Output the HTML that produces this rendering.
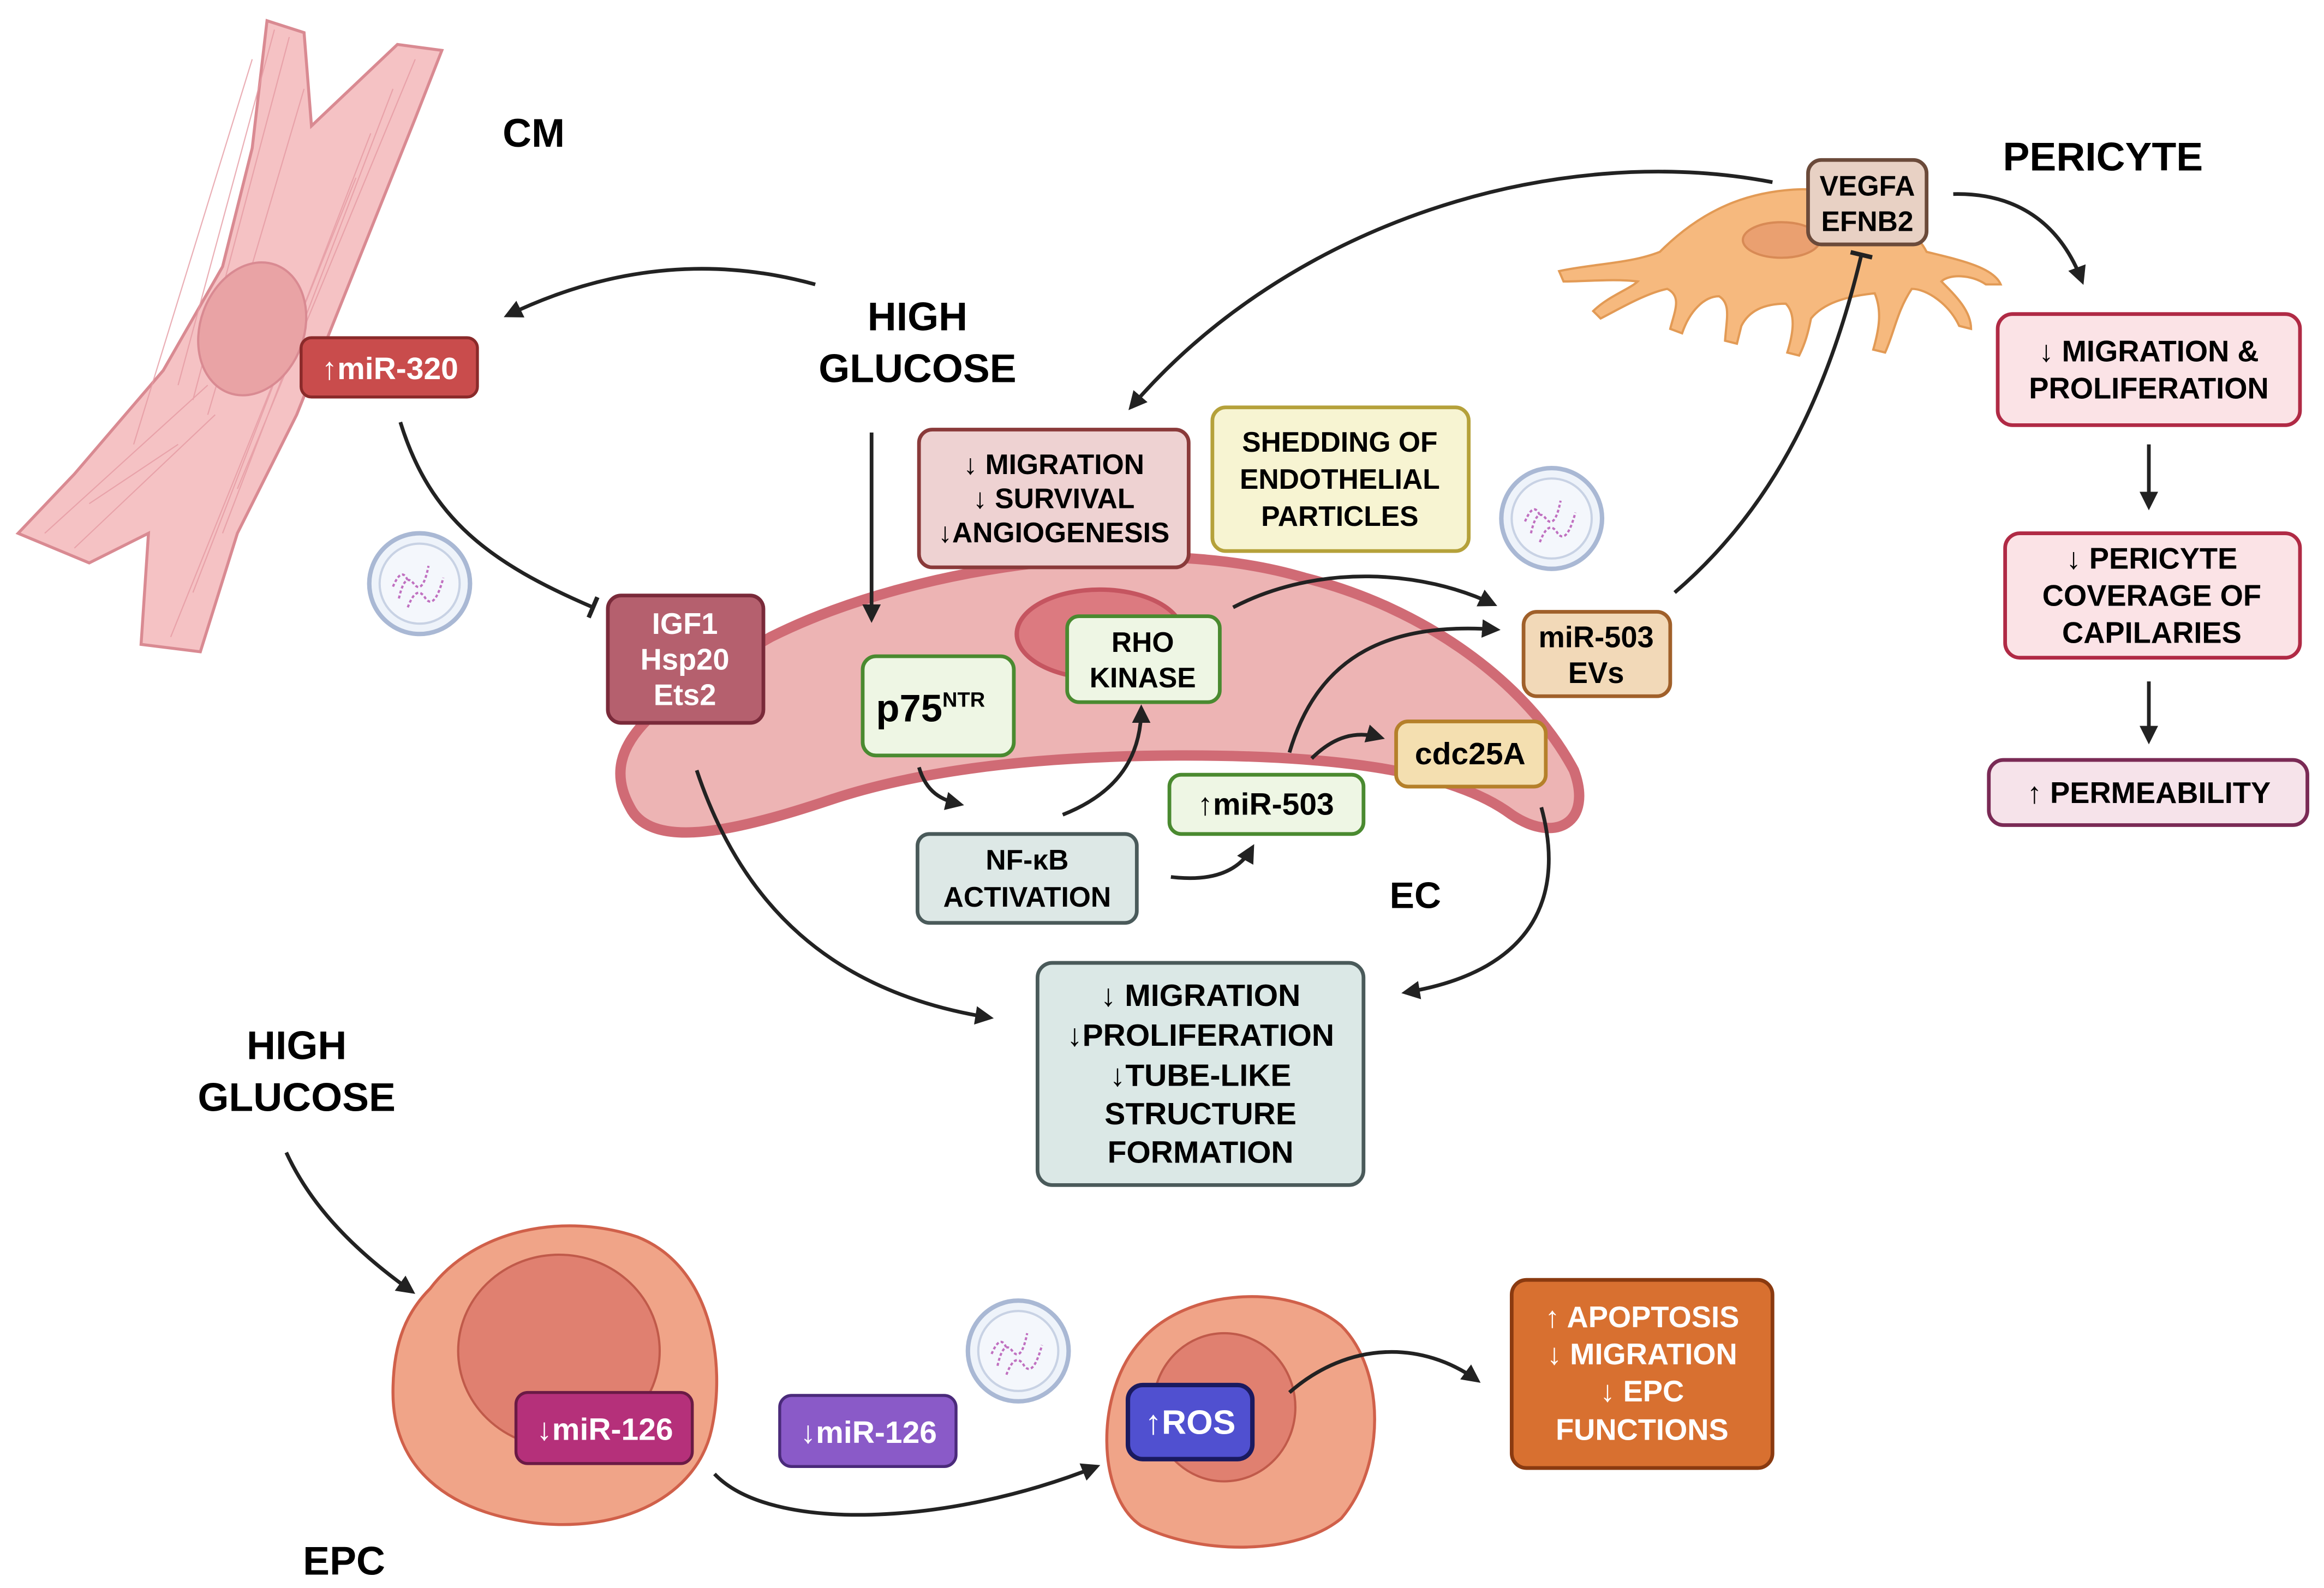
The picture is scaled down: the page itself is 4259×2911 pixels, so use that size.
<!DOCTYPE html>
<html><head><meta charset="utf-8"><style>
html,body{margin:0;padding:0;background:#fff}
svg{display:block}
text{font-family:"Liberation Sans",sans-serif;font-weight:bold}
</style></head><body>
<svg width="4259" height="2911" viewBox="0 0 1568 1072" xmlns="http://www.w3.org/2000/svg">
<defs>
<marker id="ar" viewBox="0 0 10 10" refX="8" refY="5" markerWidth="5" markerHeight="5" orient="auto-start-reverse"><path d="M0,0 L10,5 L0,10 z" fill="#222"/></marker>
<marker id="tb" viewBox="0 0 10 10" refX="5" refY="5" markerWidth="6" markerHeight="6" orient="auto"><path d="M5,0 L5,10" stroke="#222" stroke-width="2"/></marker>
<g id="ves"><circle r="34" fill="#eef3fa" stroke="#a9b8d4" stroke-width="3"/><circle r="27" fill="#f4f7fc" stroke="#c8d2e4" stroke-width="1.5"/><path d="M-14,10 q4,-18 10,-10 q6,8 10,-12 M-8,16 q6,-16 12,-6 q6,8 12,-14 M-18,2 q6,-14 10,-4" stroke="#c070c0" stroke-width="1.5" fill="none" stroke-dasharray="2,1.5"/></g>
</defs>
<rect width="1568" height="1072" fill="#fff"/>

<!-- CM cell -->
<path d="M180,14 L205,22 L210,85 L268,30 L298,34 L280,80 L240,180 L200,280 L160,360 L135,440 L95,435 L100,360 L60,380 L12,360 L50,320 L110,250 L150,180 L170,100 Z" fill="#f5c2c4" stroke="#d98a92" stroke-width="2"/>
<g stroke="#e59aa3" stroke-width="0.8" fill="none" opacity="0.8">
<path d="M185,20 L120,260 M195,25 L130,270 M170,40 L90,300 M205,60 L140,280 M280,40 L160,330 M265,60 L150,360 M250,90 L130,400 M240,120 L115,430 M140,260 L30,360 M145,280 L50,370 M120,300 L60,340"/>
</g>
<ellipse cx="170" cy="222" rx="35" ry="46" transform="rotate(20 170 222)" fill="#e9a3a5" stroke="#d98a92" stroke-width="1.5"/>
<text x="360" y="99" font-size="27" text-anchor="middle">CM</text>

<text x="619" y="223" font-size="27" text-anchor="middle">HIGH</text>
<text x="619" y="258" font-size="27" text-anchor="middle">GLUCOSE</text>

<rect x="203" y="228" width="119" height="40" rx="7" fill="#c94c4c" stroke="#8a2a2a" stroke-width="2"/>
<text x="263" y="256" font-size="21" fill="#fff" text-anchor="middle">↑miR-320</text>

<path d="M550,192 C470,170 400,185 342,213" stroke="#222" stroke-width="2.5" fill="none" marker-end="url(#ar)"/>
<path d="M270,285 C290,350 330,380 400,410" stroke="#222" stroke-width="2.5" fill="none" marker-end="url(#tb)"/>
<use href="#ves" x="283" y="394"/>
<use href="#ves" x="1047" y="350"/>
<use href="#ves" x="687" y="912"/>

<!-- EC cell -->
<path d="M425,545 C400,500 450,470 520,430 C620,380 780,360 880,390 C960,410 1030,460 1062,520 C1075,555 1050,570 1020,550 C980,520 900,510 800,510 C700,510 620,520 560,540 C500,560 440,575 425,545 Z" fill="#edb4b4" stroke="#d06b75" stroke-width="7"/>
<ellipse cx="742" cy="428" rx="56" ry="30" fill="#dc7a80" stroke="#c55560" stroke-width="3"/>

<rect x="410" y="402" width="105" height="86" rx="9" fill="#b5606e" stroke="#7a2a3a" stroke-width="2.5"/>
<text x="462" y="428" font-size="20" fill="#fff" text-anchor="middle">IGF1</text>
<text x="462" y="452" font-size="20" fill="#fff" text-anchor="middle">Hsp20</text>
<text x="462" y="476" font-size="20" fill="#fff" text-anchor="middle">Ets2</text>

<rect x="620" y="290" width="182" height="93" rx="9" fill="#eed2d2" stroke="#8a3a3a" stroke-width="2.5"/>
<text x="711" y="320" font-size="19" text-anchor="middle">↓ MIGRATION</text>
<text x="711" y="343" font-size="19" text-anchor="middle">↓ SURVIVAL</text>
<text x="711" y="366" font-size="19" text-anchor="middle">↓ANGIOGENESIS</text>

<rect x="818" y="275" width="173" height="97" rx="9" fill="#f7f4d2" stroke="#b5a13a" stroke-width="2.5"/>
<text x="904" y="305" font-size="19" text-anchor="middle">SHEDDING OF</text>
<text x="904" y="330" font-size="19" text-anchor="middle">ENDOTHELIAL</text>
<text x="904" y="355" font-size="19" text-anchor="middle">PARTICLES</text>

<path d="M588,292 L588,418" stroke="#222" stroke-width="2.5" fill="none" marker-end="url(#ar)"/>
<rect x="582" y="443" width="102" height="67" rx="9" fill="#eef6e4" stroke="#4a8a30" stroke-width="2.5"/>
<text x="591" y="487" font-size="26">p75<tspan font-size="14" dy="-10">NTR</tspan></text>

<rect x="720" y="416" width="103" height="58" rx="8" fill="#eef6e4" stroke="#4a8a30" stroke-width="2.5"/>
<text x="771" y="440" font-size="19" text-anchor="middle">RHO</text>
<text x="771" y="464" font-size="19" text-anchor="middle">KINASE</text>

<path d="M620,518 C625,535 635,540 648,543" stroke="#222" stroke-width="2.5" fill="none" marker-end="url(#ar)"/>
<rect x="619" y="563" width="148" height="60" rx="8" fill="#dde8e6" stroke="#4a5a5a" stroke-width="2.5"/>
<text x="693" y="587" font-size="19" text-anchor="middle">NF-κB</text>
<text x="693" y="612" font-size="19" text-anchor="middle">ACTIVATION</text>
<path d="M717,550 C755,535 770,510 770,478" stroke="#222" stroke-width="2.5" fill="none" marker-end="url(#ar)"/>
<path d="M790,592 C815,595 835,590 845,572" stroke="#222" stroke-width="2.5" fill="none" marker-end="url(#ar)"/>

<rect x="789" y="523" width="131" height="40" rx="8" fill="#eef6e4" stroke="#4a8a30" stroke-width="2.5"/>
<text x="854" y="550" font-size="21" text-anchor="middle">↑miR-503</text>

<rect x="942" y="487" width="101" height="44" rx="8" fill="#f4dfb0" stroke="#b5802a" stroke-width="2.5"/>
<text x="992" y="516" font-size="21" text-anchor="middle">cdc25A</text>
<path d="M885,512 C900,497 915,493 932,498" stroke="#222" stroke-width="2.5" fill="none" marker-end="url(#ar)"/>
<path d="M870,508 C890,440 940,420 1010,425" stroke="#222" stroke-width="2.5" fill="none" marker-end="url(#ar)"/>
<path d="M832,410 C890,380 960,385 1008,408" stroke="#222" stroke-width="2.5" fill="none" marker-end="url(#ar)"/>

<rect x="1028" y="413" width="99" height="57" rx="9" fill="#f2d9b8" stroke="#a0602a" stroke-width="2.5"/>
<text x="1077" y="437" font-size="20" text-anchor="middle">miR-503</text>
<text x="1077" y="461" font-size="20" text-anchor="middle">EVs</text>

<text x="955" y="613" font-size="25" text-anchor="middle">EC</text>

<path d="M1040,545 C1055,600 1040,655 948,670" stroke="#222" stroke-width="2.5" fill="none" marker-end="url(#ar)"/>
<path d="M470,520 C500,610 560,670 668,687" stroke="#222" stroke-width="2.5" fill="none" marker-end="url(#ar)"/>

<rect x="700" y="650" width="220" height="150" rx="10" fill="#dbe8e6" stroke="#4a5a5a" stroke-width="2.5"/>
<text x="810" y="679" font-size="21" text-anchor="middle">↓ MIGRATION</text>
<text x="810" y="706" font-size="21" text-anchor="middle">↓PROLIFERATION</text>
<text x="810" y="733" font-size="21" text-anchor="middle">↓TUBE-LIKE</text>
<text x="810" y="759" font-size="21" text-anchor="middle">STRUCTURE</text>
<text x="810" y="785" font-size="21" text-anchor="middle">FORMATION</text>

<!-- Pericyte -->
<path d="M1196,123 C1050,95 870,150 763,275" stroke="#222" stroke-width="2.5" fill="none" marker-end="url(#ar)"/>
<path d="M1120,170 C1150,140 1180,130 1210,128 C1250,125 1290,150 1300,170 C1320,175 1345,180 1350,192 L1340,192 C1330,185 1315,185 1310,190 C1320,200 1330,210 1330,222 L1322,220 C1315,205 1300,195 1290,195 C1280,210 1278,225 1272,238 L1264,236 C1268,222 1270,210 1265,198 C1245,200 1230,205 1222,215 C1220,225 1218,232 1214,240 L1206,238 C1210,225 1212,212 1205,205 C1190,205 1180,210 1175,220 L1172,232 L1164,230 C1165,215 1168,205 1160,200 C1150,200 1140,210 1135,225 L1127,222 C1130,210 1135,200 1125,195 C1110,198 1090,210 1080,215 L1075,210 C1085,200 1100,195 1105,190 C1090,188 1070,190 1055,190 L1052,183 C1075,178 1100,178 1120,170 Z" fill="#f6b97e" stroke="#e29a55" stroke-width="1.5"/>
<ellipse cx="1202" cy="162" rx="26" ry="12" fill="#eaa070" stroke="#d88a55" stroke-width="1.5"/>
<path d="M1130,400 C1200,340 1235,260 1256,172" stroke="#222" stroke-width="2.5" fill="none" marker-end="url(#tb)"/>
<rect x="1220" y="108" width="80" height="57" rx="9" fill="#e8d1c4" stroke="#6b4a3a" stroke-width="2.5"/>
<text x="1260" y="132" font-size="19" text-anchor="middle">VEGFA</text>
<text x="1260" y="156" font-size="19" text-anchor="middle">EFNB2</text>
<text x="1419" y="115" font-size="27" text-anchor="middle">PERICYTE</text>
<path d="M1318,131 C1360,130 1390,150 1405,190" stroke="#222" stroke-width="2.5" fill="none" marker-end="url(#ar)"/>

<rect x="1348" y="212" width="204" height="75" rx="10" fill="#fbe3e6" stroke="#b02a45" stroke-width="2.5"/>
<text x="1450" y="244" font-size="20" text-anchor="middle">↓ MIGRATION &amp;</text>
<text x="1450" y="269" font-size="20" text-anchor="middle">PROLIFERATION</text>
<path d="M1450,300 L1450,342" stroke="#222" stroke-width="2.5" marker-end="url(#ar)"/>
<rect x="1353" y="360" width="199" height="84" rx="10" fill="#fbe3e6" stroke="#b02a45" stroke-width="2.5"/>
<text x="1452" y="384" font-size="20" text-anchor="middle">↓ PERICYTE</text>
<text x="1452" y="409" font-size="20" text-anchor="middle">COVERAGE OF</text>
<text x="1452" y="434" font-size="20" text-anchor="middle">CAPILARIES</text>
<path d="M1450,460 L1450,500" stroke="#222" stroke-width="2.5" marker-end="url(#ar)"/>
<rect x="1342" y="513" width="215" height="44" rx="10" fill="#f6e3ea" stroke="#7a2a55" stroke-width="2.5"/>
<text x="1450" y="542" font-size="20" text-anchor="middle">↑ PERMEABILITY</text>

<!-- EPC -->
<text x="200" y="715" font-size="27" text-anchor="middle">HIGH</text>
<text x="200" y="750" font-size="27" text-anchor="middle">GLUCOSE</text>
<path d="M193,778 C210,815 240,845 278,872" stroke="#222" stroke-width="2.5" fill="none" marker-end="url(#ar)"/>

<path d="M290,870 C320,830 380,818 430,835 C480,855 490,920 480,965 C470,1010 420,1035 360,1028 C300,1020 265,990 265,940 C265,905 275,885 290,870 Z" fill="#f0a488" stroke="#d0604a" stroke-width="2"/>
<ellipse cx="377" cy="912" rx="68" ry="65" fill="#e08070" stroke="#c05a4a" stroke-width="1.5"/>
<rect x="348" y="940" width="119" height="48" rx="8" fill="#b5307a" stroke="#6a1a45" stroke-width="2"/>
<text x="408" y="972" font-size="21" fill="#fff" text-anchor="middle">↓miR-126</text>
<text x="232" y="1063" font-size="27" text-anchor="middle">EPC</text>

<rect x="526" y="942" width="119" height="48" rx="8" fill="#8a5ac8" stroke="#4a2a7a" stroke-width="2"/>
<text x="586" y="974" font-size="21" fill="#fff" text-anchor="middle">↓miR-126</text>

<path d="M482,995 C520,1035 640,1030 740,990" stroke="#222" stroke-width="2.5" fill="none" marker-end="url(#ar)"/>

<path d="M770,905 C800,870 870,865 905,895 C935,925 935,990 905,1025 C875,1050 810,1050 770,1030 C740,1010 738,940 770,905 Z" fill="#f0a488" stroke="#d0604a" stroke-width="2"/>
<ellipse cx="826" cy="950" rx="48" ry="50" fill="#e08070" stroke="#c05a4a" stroke-width="1.5"/>
<rect x="761" y="935" width="84" height="50" rx="10" fill="#5050d0" stroke="#1a1a60" stroke-width="3"/>
<text x="803" y="968" font-size="23" fill="#fff" text-anchor="middle">↑ROS</text>
<path d="M870,940 C910,905 960,905 997,932" stroke="#222" stroke-width="2.5" fill="none" marker-end="url(#ar)"/>

<rect x="1020" y="864" width="176" height="127" rx="10" fill="#d87030" stroke="#8a3a10" stroke-width="2.5"/>
<text x="1108" y="896" font-size="20" fill="#fff" text-anchor="middle">↑ APOPTOSIS</text>
<text x="1108" y="921" font-size="20" fill="#fff" text-anchor="middle">↓ MIGRATION</text>
<text x="1108" y="946" font-size="20" fill="#fff" text-anchor="middle">↓ EPC</text>
<text x="1108" y="972" font-size="20" fill="#fff" text-anchor="middle">FUNCTIONS</text>
</svg>
</body></html>
